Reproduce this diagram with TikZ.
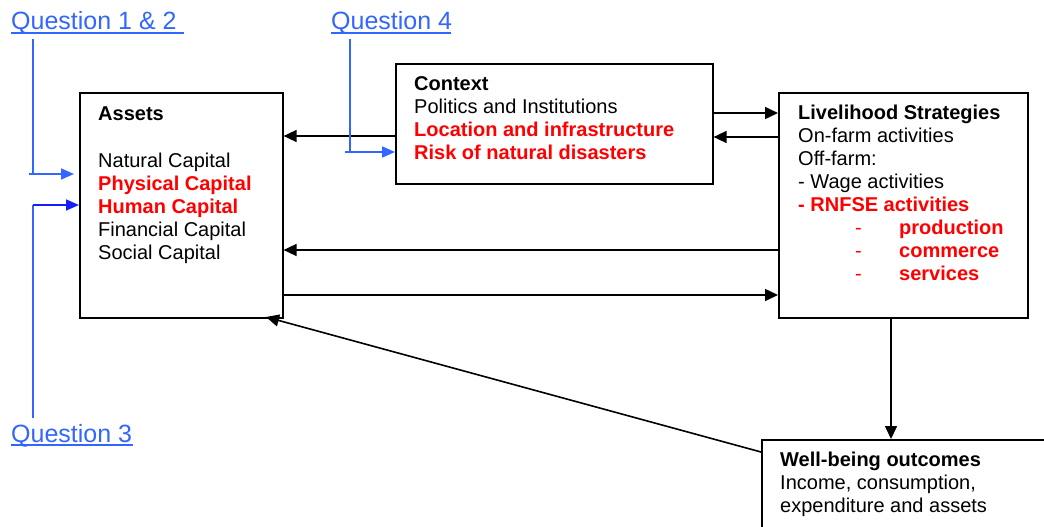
\documentclass[tikz,border=0pt]{standalone}
\usepackage{fontspec}
\setmainfont{Liberation Sans}
\usetikzlibrary{arrows.meta}
\definecolor{qblue}{RGB}{51,102,255}
\definecolor{dblue}{RGB}{20,30,255}
\definecolor{tred}{RGB}{255,0,0}
\begin{document}
\begin{tikzpicture}[x=1pt,y=-1pt,
  box/.style={draw=black, line width=1.6pt, inner sep=0, anchor=north west},
  ln/.style={anchor=base west, inner sep=0, font=\fontsize{20}{23}\selectfont},
  bl/.style={anchor=base west, inner sep=0, font=\fontsize{20}{23}\selectfont\bfseries},
  rd/.style={bl, text=tred},
  rdash/.style={ln, text=tred},
  arr/.style={line width=1.6pt, -{Triangle[length=13pt,width=12pt]}},
  ql/.style={anchor=base west, inner sep=0, text=qblue, font=\fontsize{25}{28}\selectfont},
  qline/.style={draw=qblue, line width=1.6pt},
  qarr/.style={line width=1.6pt, -{Triangle[length=13pt,width=11pt]}}]
\useasboundingbox (0,0) rectangle (1044,527);

% boxes
\node[box, minimum width=203pt, minimum height=225pt] (assets) at (79,92) {};
\node[box, minimum width=317pt, minimum height=120pt] (context) at (395,63) {};
\node[box, minimum width=249pt, minimum height=225pt] (live) at (778,92) {};
\node[box, minimum width=320pt, minimum height=120pt] (well) at (761,439) {};

% Assets text
\node[bl] (a0) at (98,120) {Assets};
\node[ln] (a1) at (98,167) {Natural Capital};
\node[rd] (a2) at (98,190) {Physical Capital};
\node[rd] (a3) at (98,213) {Human Capital};
\node[ln] (a4) at (98,236) {Financial Capital};
\node[ln] (a5) at (98,259) {Social Capital};

% Context text
\node[bl] (c0) at (414,90) {Context};
\node[ln] (c1) at (414,113) {Politics and Institutions};
\node[rd] (c2) at (414,136) {Location and infrastructure};
\node[rd] (c3) at (414,159) {Risk of natural disasters};

% Livelihood text
\node[bl] (l0) at (798,119) {Livelihood Strategies};
\node[ln] (l1) at (798,142) {On-farm activities};
\node[ln] (l2) at (798,165) {Off-farm:};
\node[ln] (l3) at (798,188) {- Wage activities};
\node[rd] (l4) at (798,211) {- RNFSE activities};
\node[rdash] (d1) at (855,234) {-};
\node[rd] (l5) at (899,234) {production};
\node[rdash] (d2) at (855,257) {-};
\node[rd] (l6) at (899,257) {commerce};
\node[rdash] (d3) at (855,280) {-};
\node[rd] (l7) at (899,280) {services};

% Well-being text
\node[bl] (w0) at (780,466) {Well-being outcomes};
\node[ln] (w1) at (780,489) {Income, consumption,};
\node[ln] (w2) at (780,512) {expenditure and assets};

% black connectors
\draw[arr] (context.west |- 0,136) -- (assets.east |- 0,136);
\draw[arr] (context.east |- 0,113) -- (live.west |- 0,113);
\draw[arr] (live.west |- 0,137) -- (context.east |- 0,137);
\draw[arr] (live.west |- 0,250) -- (assets.east |- 0,250);
\draw[arr] (assets.east |- 0,295) -- (live.west |- 0,295);
\draw[arr] (live.south -| 891,0) -- (well.north -| 891,0);
\coordinate (atip) at (266,317);
\draw[arr] (well.west |- 0,452) -- (atip);

% question labels
\node[ql] (q12) at (11,30) {Question 1 \& 2};
\node[ql] (q4) at (331,30) {Question 4};
\node[ql] (q3) at (11,442) {Question 3};
\coordinate (u1a) at (11,33); \coordinate (u1b) at (184,33);
\coordinate (u4a) at (331,33); \coordinate (u4b) at (451,33);
\coordinate (u3a) at (11,445); \coordinate (u3b) at (133,445);
\draw[qline] (u1a) -- (u1b);
\draw[qline] (u4a) -- (u4b);
\draw[qline] (u3a) -- (u3b);

% question connectors
\coordinate (q12top) at (33,39);
\coordinate (q12bend) at (33,174);
\coordinate (q12start) at (29,174);
\coordinate (q12tip) at (74,174);
\draw[qline] (q12top) -- (q12bend);
\draw[qarr, qblue] (q12start) -- (q12tip);

\coordinate (q4top) at (350,39);
\coordinate (q4bend) at (350,152);
\coordinate (q4start) at (345,152);
\draw[qline] (q4top) -- (q4bend);
\draw[qarr, qblue] (q4start) -- (context.west |- 0,152);

\coordinate (q3bot) at (33,418);
\coordinate (q3bend) at (33,205);
\draw[qline] (q3bot) -- (q3bend);
\draw[qarr, dblue] (q3bend) -- (assets.west |- 0,205);
\end{tikzpicture}
\end{document}
